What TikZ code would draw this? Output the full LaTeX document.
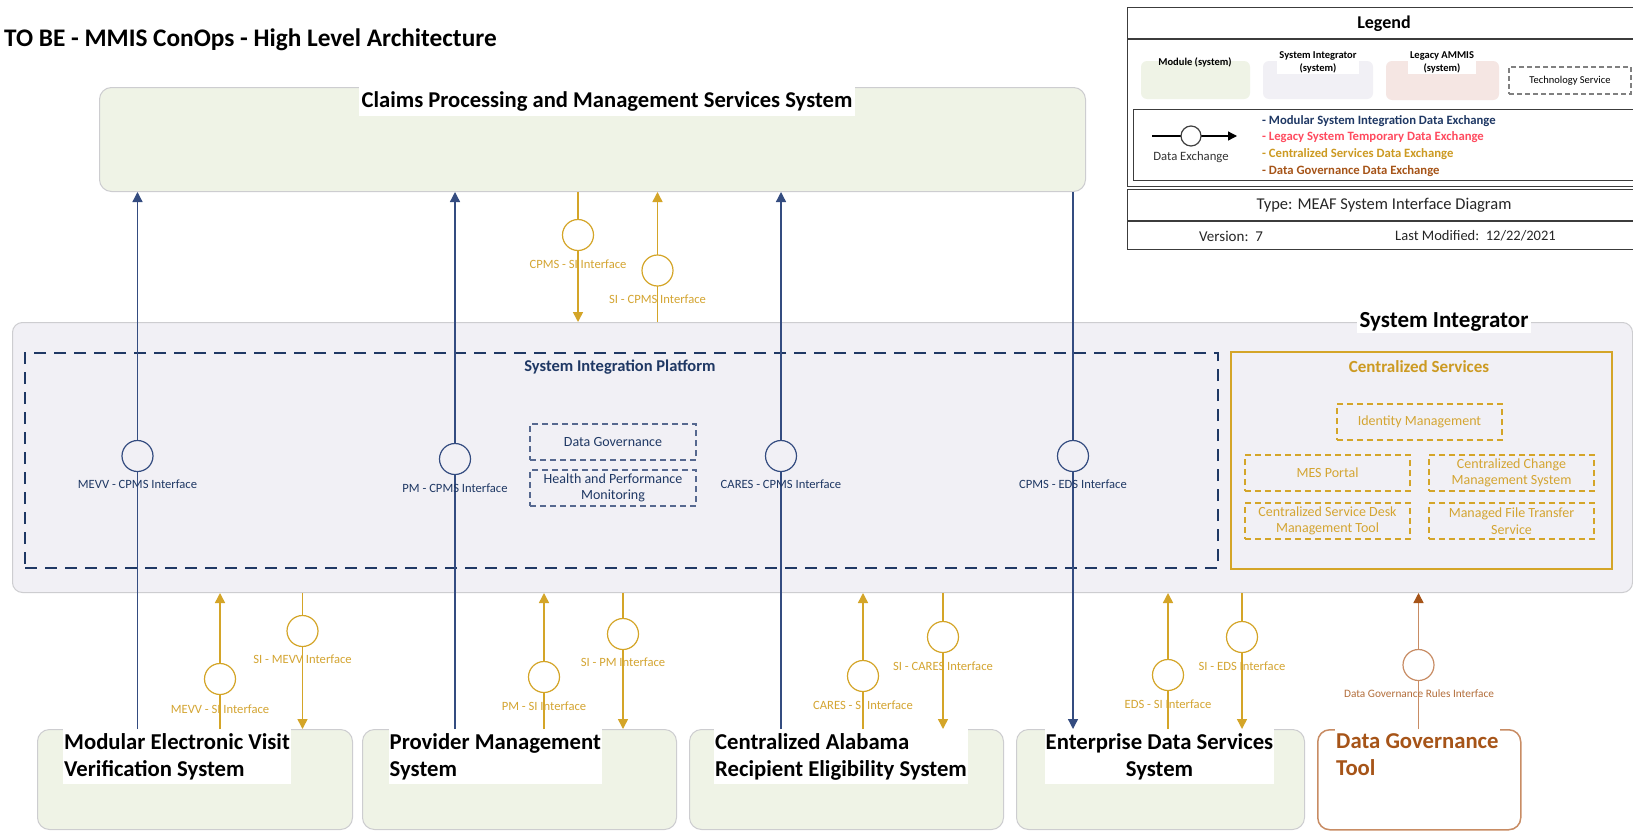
\documentclass[tikz,border=0pt]{standalone}
\usepackage{fontspec}
\setmainfont{Carlito}
\usetikzlibrary{arrows.meta,calc}
\definecolor{navy}{RGB}{31,56,100}
\definecolor{navyline}{RGB}{52,76,128}
\definecolor{navygray}{RGB}{86,104,143}
\definecolor{gold}{RGB}{212,165,40}
\definecolor{goldtext}{RGB}{212,165,50}
\definecolor{golddark}{RGB}{204,154,34}
\definecolor{brownl}{RGB}{200,140,100}
\definecolor{brownd}{RGB}{166,84,24}
\definecolor{modfill}{RGB}{239,243,230}
\definecolor{sifill}{RGB}{241,240,245}
\definecolor{legfill}{RGB}{245,230,227}
\definecolor{boxgray}{RGB}{205,205,208}
\definecolor{legred}{RGB}{255,75,95}
\definecolor{legline}{RGB}{60,60,60}
\newcommand\fsz[2]{\fontsize{#1}{#2}\selectfont}
\begin{document}
\begin{tikzpicture}[x=1pt,y=-1pt,
  font=\fsz{11}{13},
  modbox/.style={draw=boxgray, line width=1pt, fill=modfill, rounded corners=12pt, inner sep=0pt, anchor=north west},
  modlabel/.style={anchor=north west, fill=white, inner xsep=1pt, inner ysep=4pt, align=left, font=\bfseries\fsz{22.7}{27}},
  ifc/.style={circle, line width=1.2pt, minimum size=31pt, inner sep=0pt},
  goldline/.style={draw=gold, line width=1.5pt},
  blueline/.style={draw=navyline, line width=1.3pt},
  brownline/.style={draw=brownl, line width=1.5pt},
  tip/.style={-{Triangle[width=10pt,length=10pt]}},
  glabel/.style={text=goldtext, font=\fsz{12.6}{14}, inner sep=0pt},
  blabel/.style={text=navy, font=\fsz{12.6}{14}, inner sep=0pt},
  csbox/.style={draw=gold, line width=1.3pt, dash pattern=on 6pt off 4pt, minimum width=165pt, minimum height=36pt, inner sep=0pt, align=center, text=goldtext, font=\fsz{14}{16.5}},
  dgbox/.style={draw=navygray, line width=1.3pt, dash pattern=on 6pt off 4pt, minimum width=166pt, minimum height=36pt, inner sep=0pt, align=center, text=navy, font=\fsz{14}{16.5}},
  legbox/.style={draw=legline, line width=1.1pt, inner sep=0pt, anchor=north west},
  legcol/.style={anchor=west, font=\bfseries\fsz{12.7}{15}, inner sep=0pt}
]
\useasboundingbox (0,0) rectangle (1633,830);
\clip (0,0) rectangle (1633,830);
\fill[white] (0,0) rectangle (1633,830);

% Title
\node[anchor=west, font=\bfseries\fsz{25.3}{30}, inner sep=0pt] (title) at (4,39.5) {TO BE - MMIS ConOps - High Level Architecture};

% ---------- Legend ----------
\node[legbox, minimum width=520pt, minimum height=179pt] (legend) at (1127,7) {};
\draw[legline, line width=1.1pt] (legend.north west) ++(0,32) coordinate (lg1) -- (lg1 -| legend.east);
\node[font=\bfseries\fsz{18}{20}] (legtitle) at (1384,24) {Legend};
\fill[modfill, rounded corners=6pt] (1141,61) rectangle (1250,99);
\node[font=\bfseries\fsz{10.5}{13}, inner sep=0pt] (lmod) at (1195,62) {Module (system)};
\fill[sifill, rounded corners=6pt] (1263,61) rectangle (1373,99);
\node[anchor=south, fill=white, font=\bfseries\fsz{10.5}{13}, align=center, inner xsep=2pt, inner ysep=1pt] (lsi) at (1318,74) {System Integrator\\(system)};
\fill[legfill, rounded corners=6pt] (1386,61) rectangle (1499,100);
\node[anchor=south, fill=white, font=\bfseries\fsz{10.5}{13}, align=center, inner xsep=2pt, inner ysep=1pt] (lleg) at (1442,74) {Legacy AMMIS\\(system)};
\node[draw=gray, line width=1.1pt, dash pattern=on 5pt off 3pt, minimum width=122pt, minimum height=27pt, inner sep=0pt, font=\fsz{10.5}{12}] (ltech) at (1570,80.5) {Technology Service};
\node[legbox, minimum width=510pt, minimum height=71pt] (ldx) at (1133,109) {};
\coordinate (dxs) at (1152,136);
\coordinate (dxe) at (1237,136);
\draw[black, line width=1.3pt, -{Triangle[width=9pt,length=9pt]}] (dxs) -- (dxe);
\node[circle, draw=black!75, fill=white, line width=1.2pt, minimum size=20pt, inner sep=0pt] (dxc) at (1191,136) {};
\node[font=\fsz{12.7}{15}, text=black!80] (dxl) at (1191,157) {Data Exchange};
\node[legcol, text=navy] (lc1) at (1262,121) {- Modular System Integration Data Exchange};
\node[legcol, text=legred] (lc2) at (1262,137.5) {- Legacy System Temporary Data Exchange};
\node[legcol, text=golddark] (lc3) at (1262,154) {- Centralized Services Data Exchange};
\node[legcol, text=brownd] (lc4) at (1262,171) {- Data Governance Data Exchange};
\node[legbox, minimum width=520pt, minimum height=60pt] (ltype) at (1127,189) {};
\draw[legline, line width=1.1pt] (ltype.north west) ++(0,32) coordinate (lg2) -- (lg2 -| ltype.east);
\node[font=\fsz{16.5}{18}, text=black!85] (ltypetxt) at (1384,205) {Type: MEAF System Interface Diagram};
\node[anchor=west, font=\fsz{15}{17}, text=black!85, inner sep=0pt] (lver) at (1199,236) {Version:\ \ 7};
\node[anchor=west, font=\fsz{14.5}{17}, text=black!85, inner sep=0pt] (lmodif) at (1395,236) {Last Modified:\ \ 12/22/2021};

% ---------- Main boxes ----------
\node[modbox, minimum width=986pt, minimum height=104pt] (cpms) at (99,87) {};
\node[draw=boxgray, line width=1pt, fill=sifill, rounded corners=10pt, inner sep=0pt, anchor=north west, minimum width=1620pt, minimum height=270pt] (si) at (12,322) {};
\node[draw=navy, line width=2pt, dash pattern=on 12pt off 8pt, inner sep=0pt, anchor=north west, minimum width=1193pt, minimum height=215pt] (sip) at (24,352) {};
\node[draw=gold, line width=2pt, inner sep=0pt, anchor=north west, minimum width=381pt, minimum height=217pt] (cs) at (1230,351) {};

\node[modbox, minimum width=315pt, minimum height=100pt] (mevv) at (37,729) {};
\node[modbox, minimum width=314pt, minimum height=100pt] (pm) at (362,729) {};
\node[modbox, minimum width=314pt, minimum height=100pt] (cares) at (689,729) {};
\node[modbox, minimum width=288pt, minimum height=100pt] (eds) at (1016,729) {};
\node[draw=brownl, line width=1.5pt, fill=white, rounded corners=12pt, inner sep=0pt, anchor=north west, minimum width=203pt, minimum height=100pt] (dgt) at (1317,729) {};

% Box titles
\node[anchor=north, fill=white, inner xsep=3pt, inner ysep=4.5pt, font=\bfseries\fsz{22.6}{26}] (cpmslbl) at (607,87) {Claims Processing and Management Services System};
\node[fill=white, inner xsep=3pt, inner ysep=2pt, font=\bfseries\fsz{23}{26}] (silbl) at (1444,322) {System Integrator};
\node[text=navy, font=\bfseries\fsz{16.5}{19}] (siplbl) at (620,367) {System Integration Platform};
\node[text=golddark, font=\bfseries\fsz{17}{19}] (cslbl) at (1419,367) {Centralized Services};

% Platform inner boxes
\node[dgbox] (dg) at (613,442) {Data Governance};
\node[dgbox] (hpm) at (613,488) {Health and Performance\\Monitoring};

% Centralized services boxes
\node[csbox] (idm) at (1419.5,422) {Identity Management};
\node[csbox] (mes) at (1327.5,473) {MES Portal};
\node[csbox] (ccms) at (1511.5,473) {Centralized Change\\Management System};
\node[csbox] (csdm) at (1327.5,521) {Centralized Service Desk\\Management Tool};
\node[csbox] (mfts) at (1511.5,521) {Managed File Transfer\\Service};

% Module labels
\node[modlabel] (mevvlbl) at (63,729) {Modular Electronic Visit\\Verification System};
\node[modlabel] (pmlbl) at (388.5,729) {Provider Management\\System};
\node[modlabel] (careslbl) at (714,729) {Centralized Alabama\\Recipient Eligibility System};
\node[modlabel, anchor=north, align=center] (edslbl) at (1159.5,729) {Enterprise Data Services\\System};
\node[modlabel, text=brownd] (dgtlbl) at (1335,729) {Data Governance\\Tool};

% ---------- Interface circle positions ----------
\coordinate (pb1) at (137.5,456);
\coordinate (pb2) at (455,459);
\coordinate (pb3) at (781,456);
\coordinate (pb4) at (1073,456);
\coordinate (pt1) at (578,235);
\coordinate (pt2) at (657.5,270.5);
\coordinate (pg1) at (220,679);
\coordinate (pg2) at (302.5,631);
\coordinate (pg3) at (544,677);
\coordinate (pg4) at (623,634);
\coordinate (pg5) at (863,676);
\coordinate (pg6) at (943,637);
\coordinate (pg7) at (1168,675);
\coordinate (pg8) at (1242,637);
\coordinate (pd1) at (1418.5,665);

% ---------- Connectors ----------
\draw[blueline, tip] (mevv.north -| pb1) -- (cpms.south -| pb1);
\draw[blueline, tip] (pm.north -| pb2) -- (cpms.south -| pb2);
\draw[blueline, tip] (cares.north -| pb3) -- (cpms.south -| pb3);
\draw[blueline, tip] (cpms.south -| pb4) -- (eds.north -| pb4);

\draw[goldline, tip] (cpms.south -| pt1) -- (si.north -| pt1);
\draw[goldline, tip] (si.north -| pt2) -- (cpms.south -| pt2);

\draw[goldline, tip] (mevv.north -| pg1) -- (si.south -| pg1);
\draw[goldline, tip] (si.south -| pg2) -- (mevv.north -| pg2);
\draw[goldline, tip] (pm.north -| pg3) -- (si.south -| pg3);
\draw[goldline, tip] (si.south -| pg4) -- (pm.north -| pg4);
\draw[goldline, tip] (cares.north -| pg5) -- (si.south -| pg5);
\draw[goldline, tip] (si.south -| pg6) -- (cares.north -| pg6);
\draw[goldline, tip] (eds.north -| pg7) -- (si.south -| pg7);
\draw[goldline, tip] (si.south -| pg8) -- (eds.north -| pg8);
\draw[brownline, -{Triangle[width=10pt,length=10pt,color=brownd]}] (dgt.north -| pd1) -- (si.south -| pd1);

% ---------- Interface circles ----------
\node[ifc, draw=navyline, fill=sifill] (cb1) at (pb1) {};
\node[ifc, draw=navyline, fill=sifill] (cb2) at (pb2) {};
\node[ifc, draw=navyline, fill=sifill] (cb3) at (pb3) {};
\node[ifc, draw=navyline, fill=sifill] (cb4) at (pb4) {};
\node[ifc, draw=gold, fill=white] (ct1) at (pt1) {};
\node[ifc, draw=gold, fill=white] (ct2) at (pt2) {};
\node[ifc, draw=gold, fill=white] (cg1) at (pg1) {};
\node[ifc, draw=gold, fill=white] (cg2) at (pg2) {};
\node[ifc, draw=gold, fill=white] (cg3) at (pg3) {};
\node[ifc, draw=gold, fill=white] (cg4) at (pg4) {};
\node[ifc, draw=gold, fill=white] (cg5) at (pg5) {};
\node[ifc, draw=gold, fill=white] (cg6) at (pg6) {};
\node[ifc, draw=gold, fill=white] (cg7) at (pg7) {};
\node[ifc, draw=gold, fill=white] (cg8) at (pg8) {};
\node[ifc, draw=brownl, fill=white] (cd1) at (pd1) {};

% ---------- Interface labels ----------
\node[blabel] (lb1) at (137.5,484.5) {MEVV - CPMS Interface};
\node[blabel] (lb2) at (455,488) {PM - CPMS Interface};
\node[blabel] (lb3) at (781,484.5) {CARES - CPMS Interface};
\node[blabel] (lb4) at (1073,484.5) {CPMS - EDS Interface};
\node[glabel] (lt1) at (578,264) {CPMS - SI Interface};
\node[glabel] (lt2) at (657.5,299) {SI - CPMS Interface};
\node[glabel] (lg1l) at (220,709) {MEVV - SI Interface};
\node[glabel] (lg2l) at (302.5,659.5) {SI - MEVV Interface};
\node[glabel] (lg3l) at (544,706.5) {PM - SI Interface};
\node[glabel] (lg4l) at (623,662.5) {SI - PM Interface};
\node[glabel] (lg5l) at (863,705) {CARES - SI Interface};
\node[glabel] (lg6l) at (943,666) {SI - CARES Interface};
\node[glabel] (lg7l) at (1168,704) {EDS - SI Interface};
\node[glabel] (lg8l) at (1242,666) {SI - EDS Interface};
\node[text=brownd!85, font=\fsz{11.3}{13}, inner sep=0pt] (ld1) at (1419,694) {Data Governance Rules Interface};
\end{tikzpicture}
\end{document}
